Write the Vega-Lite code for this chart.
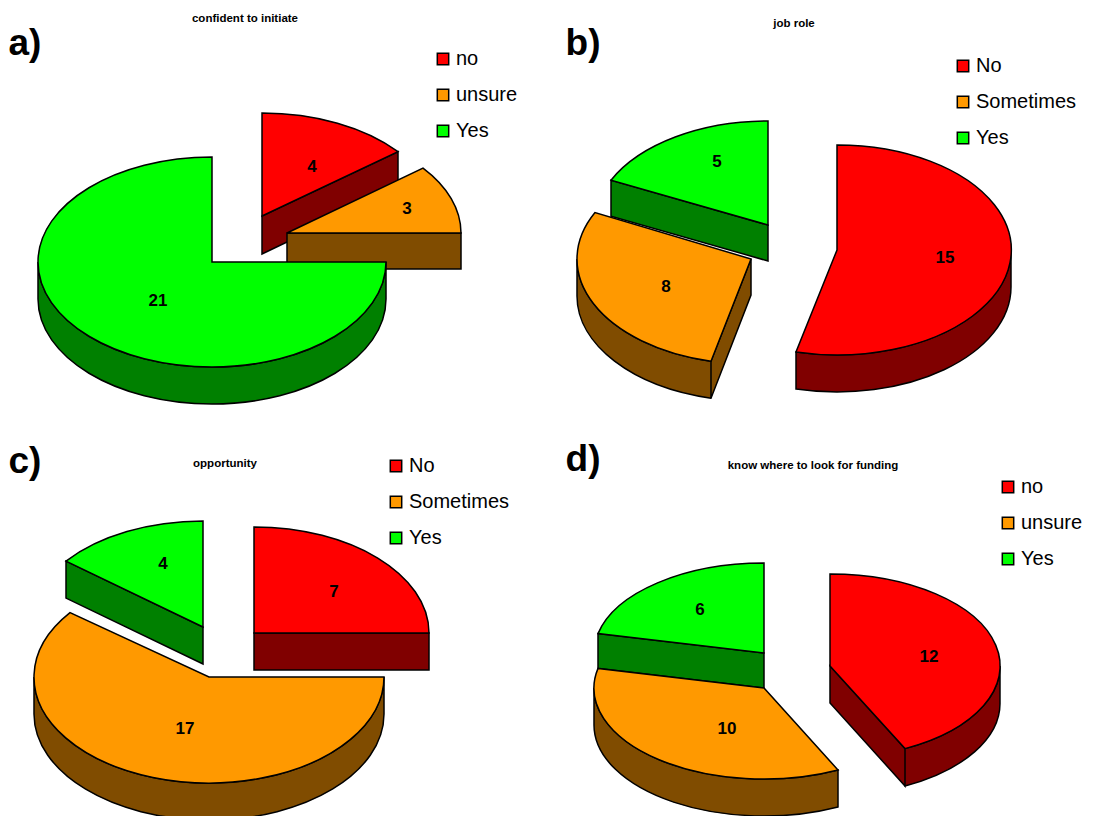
{"$schema":"https://vega.github.io/schema/vega-lite/v6.json","padding":0,"spacing":0,"columns":2,"background":"white","autosize":{"type":"pad"},"resolve":{"scale":{"fill":"independent"},"legend":{"fill":"independent"}},"config":{"view":{"stroke":null},"text":{"font":"Liberation Sans","fontWeight":"bold","fontSize":17,"color":"black"},"legend":{"symbolType":"square","symbolSize":130,"symbolStrokeColor":"black","symbolStrokeWidth":1.5,"symbolOpacity":1,"labelFont":"Liberation Sans","labelFontSize":20,"labelColor":"black","rowPadding":16,"labelOffset":3,"title":null}},"datasets":{"a":[{"category":"no","value":4},{"category":"unsure","value":3},{"category":"Yes","value":21}],"b":[{"category":"No","value":15},{"category":"Sometimes","value":8},{"category":"Yes","value":5}],"c":[{"category":"No","value":7},{"category":"Sometimes","value":17},{"category":"Yes","value":4}],"d":[{"category":"no","value":12},{"category":"unsure","value":10},{"category":"Yes","value":6}]},"concat":[
{"width":549,"height":408,"data":{"name":"a"},"encoding":{"x":{"datum":0,"type":"quantitative","scale":{"domain":[0,549]},"axis":null},"y":{"datum":0,"type":"quantitative","scale":{"domain":[408,0]},"axis":null}},"resolve":{"scale":{"shape":"independent"}},"layer":[
{"mark":{"type":"point","filled":true,"size":4,"stroke":"black","strokeWidth":1.5,"opacity":1},"encoding":{"fill":{"condition":[{"test":"datum.category==='no'","value":"#800000"},{"test":"datum.category==='unsure'","value":"#804C00"}],"value":"#008000"},"shape":{"field":"category","type":"nominal","legend":null,"scale":{"domain":["no","unsure","Yes"],"range":["M262,216L398,151.7L398,188.7L262,254Z","M287,233L461,233L461,269L287,269Z","M386,262A174,105 0 0 1 38,262L38,299A174,105 0 0 0 386,299Z"]}}}},
{"mark":{"type":"point","filled":true,"size":4,"stroke":"black","strokeWidth":1.5,"opacity":1},"encoding":{"fill":{"field":"category","type":"nominal","scale":{"domain":["no","unsure","Yes"],"range":["#FF0000","#FF9900","#00FF00"]},"legend":{"orient":"none","legendX":433,"legendY":49}},"shape":{"field":"category","type":"nominal","legend":null,"scale":{"domain":["no","unsure","Yes"],"range":["M262,216L262,113A174,103 0 0 1 398,151.7Z","M287,233L423,168.1A174,104 0 0 1 461,233Z","M212,262L212,157A174,105 0 1 0 386,262Z"]}}}},
{"transform":[{"filter":"datum.category==='no'"}],"mark":{"type":"text","dx":312,"dy":167},"encoding":{"text":{"field":"value"}}},
{"transform":[{"filter":"datum.category==='unsure'"}],"mark":{"type":"text","dx":407,"dy":209},"encoding":{"text":{"field":"value"}}},
{"transform":[{"filter":"datum.category==='Yes'"}],"mark":{"type":"text","dx":158,"dy":301},"encoding":{"text":{"field":"value"}}},
{"data":{"values":[{"t":"confident to initiate"}]},"mark":{"type":"text","dx":245,"dy":19,"fontSize":11.5},"encoding":{"text":{"field":"t"}}},
{"data":{"values":[{"t":"a)"}]},"mark":{"type":"text","dx":25,"dy":44,"fontSize":37},"encoding":{"text":{"field":"t"}}}]},
{"width":549,"height":408,"data":{"name":"b"},"encoding":{"x":{"datum":0,"type":"quantitative","scale":{"domain":[0,549]},"axis":null},"y":{"datum":0,"type":"quantitative","scale":{"domain":[408,0]},"axis":null}},"resolve":{"scale":{"shape":"independent"}},"layer":[
{"mark":{"type":"point","filled":true,"size":4,"stroke":"black","strokeWidth":1.5,"opacity":1},"encoding":{"fill":{"condition":[{"test":"datum.category==='No'","value":"#800000"},{"test":"datum.category==='Sometimes'","value":"#804C00"}],"value":"#008000"},"shape":{"field":"category","type":"nominal","legend":null,"scale":{"domain":["No","Sometimes","Yes"],"range":["M462,250A174,105 0 0 1 247,352L247,389A174,105 0 0 0 462,287Z","M28,259A174,105 0 0 0 162,361.2L202,259L202,295L162,398.2A174,105 0 0 1 28,296ZM162,361.2L162,398.2","M62,180.2L219,225L219,261L62,216.2Z"]}}}},
{"mark":{"type":"point","filled":true,"size":4,"stroke":"black","strokeWidth":1.5,"opacity":1},"encoding":{"fill":{"field":"category","type":"nominal","scale":{"domain":["No","Sometimes","Yes"],"range":["#FF0000","#FF9900","#00FF00"]},"legend":{"orient":"none","legendX":404,"legendY":56}},"shape":{"field":"category","type":"nominal","legend":null,"scale":{"domain":["No","Sometimes","Yes"],"range":["M288,250L288,145A174,105 0 1 1 247,352Z","M202,259L46,212.5A174,105 0 0 0 162,361.2Z","M219,225L219,121A174,104 0 0 0 62,180.2Z"]}}}},
{"transform":[{"filter":"datum.category==='No'"}],"mark":{"type":"text","dx":396,"dy":258},"encoding":{"text":{"field":"value"}}},
{"transform":[{"filter":"datum.category==='Sometimes'"}],"mark":{"type":"text","dx":117,"dy":287},"encoding":{"text":{"field":"value"}}},
{"transform":[{"filter":"datum.category==='Yes'"}],"mark":{"type":"text","dx":168,"dy":162},"encoding":{"text":{"field":"value"}}},
{"data":{"values":[{"t":"job role"}]},"mark":{"type":"text","dx":245,"dy":24,"fontSize":11.5},"encoding":{"text":{"field":"t"}}},
{"data":{"values":[{"t":"b)"}]},"mark":{"type":"text","dx":34,"dy":44,"fontSize":37},"encoding":{"text":{"field":"t"}}}]},
{"width":549,"height":408,"data":{"name":"c"},"encoding":{"x":{"datum":0,"type":"quantitative","scale":{"domain":[0,549]},"axis":null},"y":{"datum":0,"type":"quantitative","scale":{"domain":[408,0]},"axis":null}},"resolve":{"scale":{"shape":"independent"}},"layer":[
{"mark":{"type":"point","filled":true,"size":4,"stroke":"black","strokeWidth":1.5,"opacity":1},"encoding":{"fill":{"condition":[{"test":"datum.category==='No'","value":"#800000"},{"test":"datum.category==='Sometimes'","value":"#804C00"}],"value":"#008000"},"shape":{"field":"category","type":"nominal","legend":null,"scale":{"domain":["No","Sometimes","Yes"],"range":["M254,225L429,225L429,262L254,262Z","M384,269A175,106 0 0 1 34,269L34,306A175,106 0 0 0 384,306Z","M66,153.1L203,219L203,256L66,190.1Z"]}}}},
{"mark":{"type":"point","filled":true,"size":4,"stroke":"black","strokeWidth":1.5,"opacity":1},"encoding":{"fill":{"field":"category","type":"nominal","scale":{"domain":["No","Sometimes","Yes"],"range":["#FF0000","#FF9900","#00FF00"]},"legend":{"orient":"none","legendX":386,"legendY":48}},"shape":{"field":"category","type":"nominal","legend":null,"scale":{"domain":["No","Sometimes","Yes"],"range":["M254,225L254,119A175,106 0 0 1 429,225Z","M209,269L384,269A175,106 0 1 1 70,204.6Z","M203,219L203,113A175,106 0 0 0 66,153.1Z"]}}}},
{"transform":[{"filter":"datum.category==='No'"}],"mark":{"type":"text","dx":334,"dy":184},"encoding":{"text":{"field":"value"}}},
{"transform":[{"filter":"datum.category==='Sometimes'"}],"mark":{"type":"text","dx":185,"dy":321},"encoding":{"text":{"field":"value"}}},
{"transform":[{"filter":"datum.category==='Yes'"}],"mark":{"type":"text","dx":163,"dy":156},"encoding":{"text":{"field":"value"}}},
{"data":{"values":[{"t":"opportunity"}]},"mark":{"type":"text","dx":225,"dy":56,"fontSize":11.5},"encoding":{"text":{"field":"t"}}},
{"data":{"values":[{"t":"c)"}]},"mark":{"type":"text","dx":25,"dy":54,"fontSize":37},"encoding":{"text":{"field":"t"}}}]},
{"width":549,"height":408,"data":{"name":"d"},"encoding":{"x":{"datum":0,"type":"quantitative","scale":{"domain":[0,549]},"axis":null},"y":{"datum":0,"type":"quantitative","scale":{"domain":[408,0]},"axis":null}},"resolve":{"scale":{"shape":"independent"}},"layer":[
{"mark":{"type":"point","filled":true,"size":4,"stroke":"black","strokeWidth":1.5,"opacity":1},"encoding":{"fill":{"condition":[{"test":"datum.category==='no'","value":"#800000"},{"test":"datum.category==='unsure'","value":"#804C00"}],"value":"#008000"},"shape":{"field":"category","type":"nominal","legend":null,"scale":{"domain":["no","unsure","Yes"],"range":["M281,258L356,340.6L356,378L281,295ZM451,258A170,92 0 0 1 356,340.6L356,378A170,92 0 0 0 451,295Z","M45,280A170,91 0 0 0 289,362L289,399A170,91 0 0 1 45,317Z","M49,225.6L215,245L215,280L49,260.4Z"]}}}},
{"mark":{"type":"point","filled":true,"size":4,"stroke":"black","strokeWidth":1.5,"opacity":1},"encoding":{"fill":{"field":"category","type":"nominal","scale":{"domain":["no","unsure","Yes"],"range":["#FF0000","#FF9900","#00FF00"]},"legend":{"orient":"none","legendX":449,"legendY":69}},"shape":{"field":"category","type":"nominal","legend":null,"scale":{"domain":["no","unsure","Yes"],"range":["M281,258L281,166A170,92 0 0 1 356,340.6Z","M215,280L49,260.4A170,91 0 0 0 289,362Z","M215,245L215,155A170,90 0 0 0 49,225.6Z"]}}}},
{"transform":[{"filter":"datum.category==='no'"}],"mark":{"type":"text","dx":380,"dy":249},"encoding":{"text":{"field":"value"}}},
{"transform":[{"filter":"datum.category==='unsure'"}],"mark":{"type":"text","dx":178,"dy":321},"encoding":{"text":{"field":"value"}}},
{"transform":[{"filter":"datum.category==='Yes'"}],"mark":{"type":"text","dx":151,"dy":202},"encoding":{"text":{"field":"value"}}},
{"data":{"values":[{"t":"know where to look for funding"}]},"mark":{"type":"text","dx":264,"dy":58,"fontSize":11.5},"encoding":{"text":{"field":"t"}}},
{"data":{"values":[{"t":"d)"}]},"mark":{"type":"text","dx":34,"dy":52,"fontSize":37},"encoding":{"text":{"field":"t"}}}]}
]}
